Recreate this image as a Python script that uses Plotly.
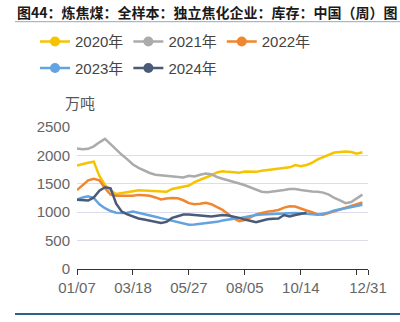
import plotly.graph_objects as go

# ---- data ----
tick_labels = ["01/07", "03/18", "05/27", "08/05", "10/14", "", "12/31"]
tick_weeks = [0, 10, 20, 30, 40, 50, 52]
weeks = list(range(52))

y2020 = [1820, 1850, 1870, 1890, 1640, 1480, 1380, 1320, 1340, 1355, 1370, 1385, 1380,
         1375, 1370, 1355, 1360, 1410, 1430, 1450, 1470, 1530, 1570, 1600, 1650, 1700,
         1720, 1710, 1700, 1695, 1715, 1710, 1710, 1730, 1740, 1750, 1760, 1775, 1790,
         1830, 1810, 1830, 1870, 1930, 1970, 2020, 2050, 2060, 2070, 2060, 2030, 2055]
y2021 = [2120, 2110, 2115, 2160, 2230, 2290, 2200, 2100, 2010, 1930, 1840, 1780, 1730,
         1690, 1660, 1650, 1640, 1635, 1630, 1610, 1640, 1630, 1660, 1680, 1670, 1620,
         1590, 1565, 1540, 1505, 1475, 1440, 1400, 1360, 1350, 1360, 1380, 1390, 1410,
         1410, 1390, 1375, 1365, 1360, 1345, 1310, 1250, 1210, 1160, 1180, 1240, 1310]
y2022 = [1390, 1480, 1560, 1590, 1560, 1420, 1310, 1290, 1285, 1290, 1290, 1305, 1300,
         1290, 1260, 1225, 1240, 1250, 1245, 1210, 1160, 1140, 1150, 1165, 1140, 1090,
         1040, 970, 890, 840, 860, 910, 960, 985, 1010, 1020, 1040, 1080, 1105,
         1100, 1060, 1030, 1000, 960, 955, 985, 1020, 1050, 1080, 1105, 1130, 1170]
y2023 = [1220, 1260, 1280, 1250, 1140, 1070, 1020, 990, 985, 990, 1010, 990, 970,
         945, 920, 895, 870, 850, 830, 805, 780, 785, 795, 800, 815, 830,
         855, 875, 885, 895, 915, 930, 950, 960, 965, 970, 970, 975, 980,
         985, 980, 970, 960, 955, 975, 995, 1030, 1050, 1065, 1085, 1100, 1130]
y2024 = [1220, 1210, 1205, 1260, 1380, 1440, 1420, 1150, 1010, 960, 920, 890, 870,
         850, 830, 810, 830, 900, 930, 960, 960, 955, 945, 935, 925, 935,
         950, 940, 925, 900, 870, 845, 825, 850, 875, 885, 890, 950, 925,
         950, 965, 990]

series = [("2020年", y2020, "#F5C400", "legend"),
          ("2021年", y2021, "#ABABAB", "legend"),
          ("2022年", y2022, "#F0862E", "legend"),
          ("2023年", y2023, "#62A3E0", "legend2"),
          ("2024年", y2024, "#4B5A77", "legend2")]

W, H = 400, 322
L, R, T, B = 77, 32, 127, 53
pw, ph = W - L - R, H - T - B


def px(x):
    return (x - L) / pw


def py(y):
    return (H - B - y) / ph


FONT = "Liberation Sans, Noto Sans CJK SC, sans-serif"

fig = go.Figure()
for name, ys, col, lg in series:
    fig.add_trace(go.Scatter(x=weeks[:len(ys)], y=ys, mode="lines", name=name,
                             line=dict(color=col, width=2.5), showlegend=False,
                             hoverinfo="skip"))
for name, ys, col, lg in series:
    fig.add_trace(go.Scatter(x=[None], y=[None], mode="lines+markers", name=name,
                             line=dict(color=col, width=2.5),
                             marker=dict(color=col, size=10), legend=lg))

fig.update_layout(
    width=W, height=H,
    margin=dict(l=L, r=R, t=T, b=B),
    paper_bgcolor="white", plot_bgcolor="white",
    font=dict(family=FONT, size=15, color="#666666"),
    legend=dict(orientation="h", x=px(35), y=py(41.7), xanchor="left", yanchor="middle",
                font=dict(size=15, color="#444444"), bgcolor="rgba(0,0,0,0)",
                itemclick=False, tracegroupgap=0),
    legend2=dict(orientation="h", x=px(35), y=py(68.3), xanchor="left", yanchor="middle",
                 font=dict(size=15, color="#444444"), bgcolor="rgba(0,0,0,0)",
                 itemclick=False),
    xaxis=dict(range=[0, 52], tickvals=tick_weeks, ticktext=tick_labels,
               showgrid=False, showline=True, linecolor="#333333", linewidth=1,
               ticks="outside", ticklen=5, tickcolor="#333333", zeroline=False,
               tickfont=dict(size=15, color="#666666")),
    yaxis=dict(range=[0, 2500], dtick=500, showgrid=True, gridcolor="#DCDCEA",
               gridwidth=1, zeroline=False, showline=False, ticks="",
               tickfont=dict(size=15, color="#666666"), ticklabelstandoff=6),
    annotations=[
        dict(text="<b>图44：炼焦煤：全样本：独立焦化企业：库存：中国（周）图</b>",
             xref="paper", yref="paper", x=px(15), y=py(12), xanchor="left",
             yanchor="middle", showarrow=False,
             font=dict(size=14, color="#1a1a1a", family="Noto Sans CJK SC")),
        dict(text="万吨", xref="paper", yref="paper", x=px(63), y=py(102),
             xanchor="left", yanchor="middle", showarrow=False,
             font=dict(size=15, color="#555555", family="Noto Sans CJK SC")),
        dict(text="资料来源：钢联数据、东方中期研究院", xref="paper", yref="paper",
             x=px(15), y=py(316), xanchor="left", yanchor="top", showarrow=False,
             font=dict(size=13, color="#555555", family="Noto Sans CJK SC")),
    ],
    shapes=[
        dict(type="line", xref="paper", yref="paper", x0=px(15), x1=px(400),
             y0=py(21.7), y1=py(21.7), line=dict(color="#8EA9C1", width=1)),
        dict(type="line", xref="paper", yref="paper", x0=px(15), x1=px(400),
             y0=py(314), y1=py(314), line=dict(color="#2F5F8A", width=2)),
    ],
)

fig.write_html("out.html")
